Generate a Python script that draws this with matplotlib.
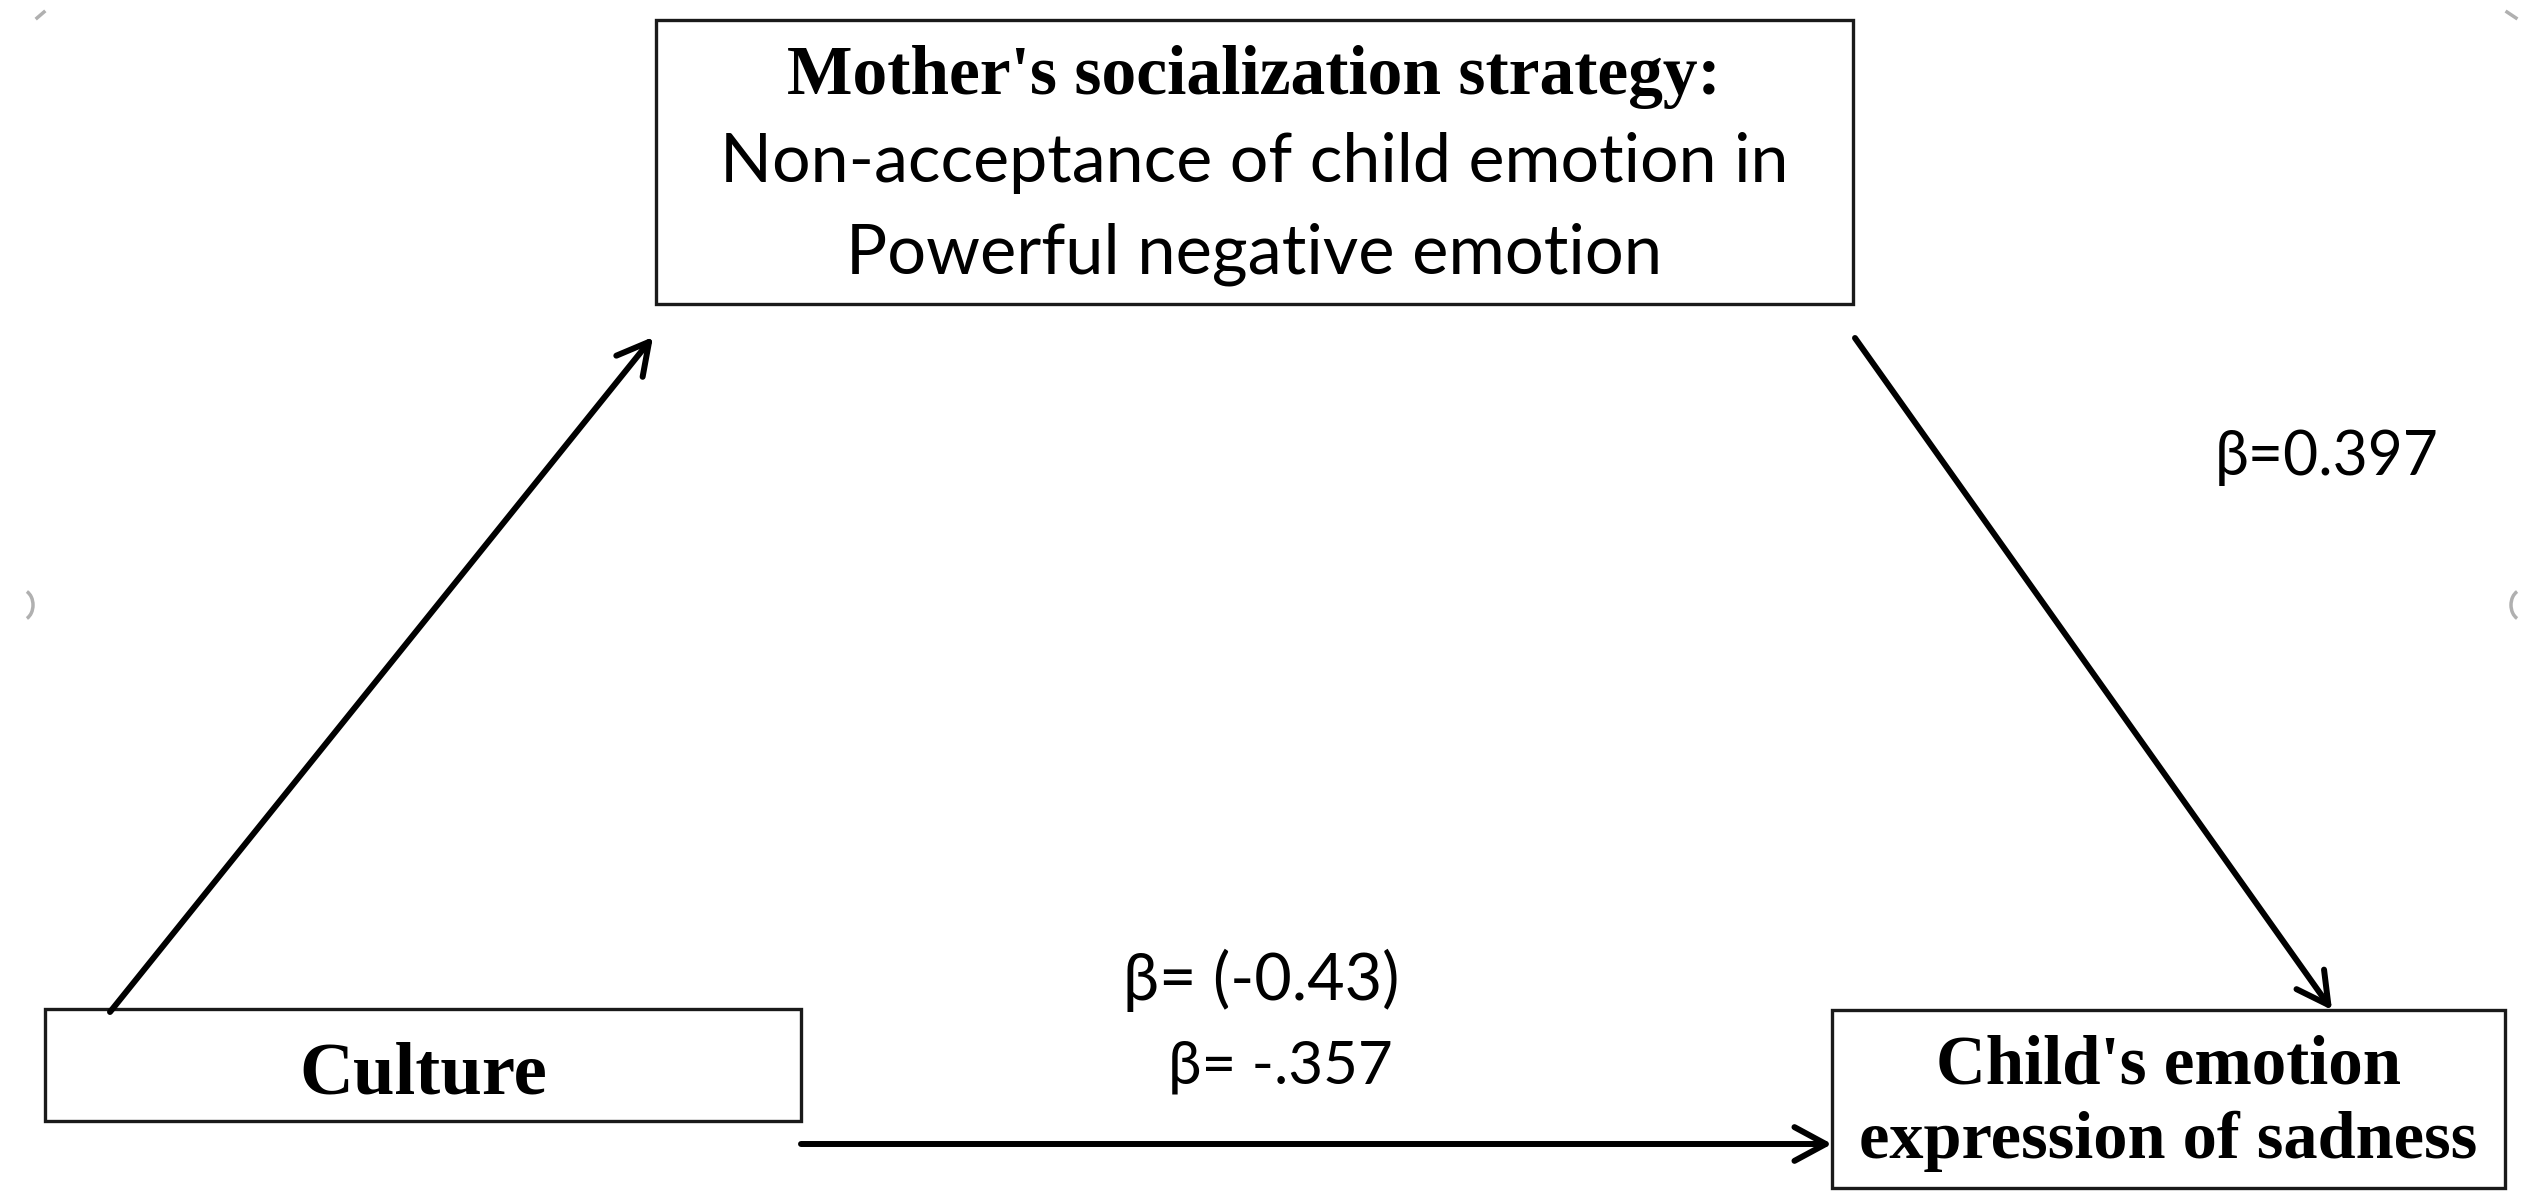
import matplotlib
matplotlib.use("Agg")
import matplotlib.pyplot as plt
from matplotlib.patches import Rectangle, Arc

# labels of the path diagram
mediator_title = "Mother's socialization strategy:"
mediator_lines = ["Non-acceptance of child emotion in", "Powerful negative emotion"]
predictor = "Culture"
outcome_lines = ["Child's emotion", "expression of sadness"]

# path coefficients
beta_b = 0.397
beta_c_total = -0.43
beta_c_direct = -.357

W, H = 2526, 1196
fig = plt.figure(figsize=(W / 100, H / 100), dpi=100)
ax = fig.add_axes([0, 0, 1, 1])
ax.set_xlim(0, W)
ax.set_ylim(H, 0)
ax.axis("off")

serif = dict(family=["Liberation Serif", "DejaVu Serif"], weight="bold")
sans = dict(family=["Lato", "DejaVu Sans"])

fig.canvas.draw()
renderer = fig.canvas.get_renderer()


def fit_text(x, y, s, width, font, ha="center", grow=1.0):
    # pick a font size so the text spans about `width` pixels
    t = ax.text(x, y, s, fontsize=40, ha=ha, va="baseline", **font)
    w = t.get_window_extent(renderer).width
    t.set_fontsize(40 * width / w * grow)
    return t


def box(x0, y0, x1, y1):
    ax.add_patch(Rectangle((x0, y0), x1 - x0, y1 - y0, fill=False,
                           edgecolor="#1a1a1a", lw=2.4, zorder=2))


def arrow(p0, p1):
    ax.annotate("", xy=p1, xytext=p0,
                arrowprops=dict(arrowstyle="->,head_length=0.5,head_width=0.27",
                                mutation_scale=45, lw=4.3, color="black",
                                shrinkA=0, shrinkB=0))


# mediator box
box(656, 20, 1853, 304)
fit_text(1254, 94, mediator_title, 897, serif, grow=1.04)
fit_text(1254, 182, mediator_lines[0], 1068, sans)
fit_text(1254, 273, mediator_lines[1], 815, sans)

# predictor box
box(45, 1009, 801, 1121)
fit_text(423, 1094, predictor, 238, serif, grow=1.04)

# outcome box
box(1832, 1010, 2505, 1188)
fit_text(2168, 1083, outcome_lines[0], 451, serif, grow=1.03)
fit_text(2168, 1158, outcome_lines[1], 604, serif, grow=1.02)

# paths
arrow((110, 1012), (653, 337))
arrow((1855, 338), (2332, 1010))
arrow((801, 1144), (1832, 1144))

# coefficients
fit_text(2215, 475, "\u03b2=%.3f" % beta_b, 213, sans, ha="left", grow=1.05)
fit_text(1123, 1000, "\u03b2= (%.2f)" % beta_c_total, 263, sans, ha="left", grow=1.05)
fit_text(1168, 1083, "\u03b2= %s" % ("%.3f" % beta_c_direct).replace("-0.", "-."),
         214, sans, ha="left", grow=1.05)

# faint selection handles around the frame
g = dict(color="#b0b0b0", lw=2.5)
ax.add_patch(Arc((22, 605), 22, 30, theta1=-70, theta2=70, **g))
ax.add_patch(Arc((2522, 605), 22, 30, theta1=110, theta2=250, **g))
ax.add_patch(Arc((1273, 2), 24, 24, theta1=200, theta2=340, **g))
ax.add_patch(Arc((1273, 1205), 28, 28, theta1=30, theta2=150, **g))
ax.plot([37, 44], [18, 12], **g)
ax.plot([2507, 2516], [12, 18], **g)

fig.savefig("out.png", dpi=100)
